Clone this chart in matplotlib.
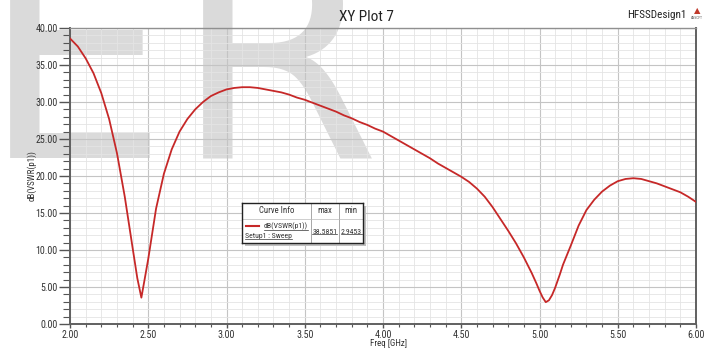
import matplotlib
matplotlib.use("Agg")
import matplotlib.pyplot as plt
from matplotlib import font_manager
from matplotlib.ticker import MultipleLocator, FormatStrFormatter
from matplotlib.patches import Rectangle

# ---- data ----
freq = [2.00, 2.05, 2.10, 2.15, 2.20, 2.25, 2.30, 2.35, 2.40, 2.43, 2.456,
        2.48, 2.50, 2.55, 2.60, 2.65, 2.70, 2.75, 2.80, 2.85, 2.90, 2.95,
        3.00, 3.05, 3.10, 3.15, 3.20, 3.25, 3.30, 3.35, 3.40, 3.45, 3.50,
        3.55, 3.60, 3.65, 3.70, 3.75, 3.80, 3.85, 3.90, 3.95, 4.00, 4.05,
        4.10, 4.15, 4.20, 4.25, 4.30, 4.35, 4.40, 4.45, 4.50, 4.55, 4.60,
        4.65, 4.70, 4.75, 4.80, 4.85, 4.90, 4.95, 4.98, 5.00, 5.02, 5.04,
        5.06, 5.08, 5.10, 5.13, 5.15, 5.20, 5.25, 5.30, 5.35, 5.40, 5.45,
        5.50, 5.55, 5.60, 5.65, 5.70, 5.75, 5.80, 5.85, 5.90, 5.95, 6.00]
vswr_db = [38.59, 37.5, 35.9, 33.9, 31.2, 27.7, 23.1, 17.2, 10.3, 6.2, 3.56,
           6.4, 8.8, 15.6, 20.3, 23.6, 26.0, 27.7, 29.0, 30.0, 30.8, 31.3,
           31.7, 31.9, 32.0, 32.0, 31.9, 31.7, 31.5, 31.3, 31.0, 30.6, 30.3,
           29.9, 29.5, 29.1, 28.7, 28.2, 27.8, 27.3, 26.9, 26.4, 26.0, 25.4,
           24.8, 24.2, 23.6, 23.0, 22.4, 21.7, 21.1, 20.5, 19.9, 19.2, 18.3,
           17.2, 15.8, 14.2, 12.6, 10.9, 9.0, 6.9, 5.5, 4.5, 3.6, 2.95,
           3.2, 3.9, 4.9, 6.7, 8.0, 10.6, 13.3, 15.4, 16.8, 17.9, 18.7,
           19.3, 19.6, 19.7, 19.6, 19.3, 19.0, 18.6, 18.2, 17.8, 17.2, 16.5]
trace_name = "dB(VSWR(p1))"
setup_name = "Setup1 : Sweep"
max_label = "38.5851"
min_label = "2.9453"
title = "XY Plot 7"
design = "HFSSDesign1"
xlabel = "Freq [GHz]"
ylabel = "dB(VSWR(p1))"

avail = {f.name for f in font_manager.fontManager.ttflist}
narrow = "DejaVu Sans"
for cand in ["Liberation Sans Narrow", "Arial Narrow", "Roboto Condensed",
             "Open Sans Condensed", "Sofia Sans Semi Condensed", "Sofia Sans Condensed"]:
    if cand in avail:
        narrow = cand
        break

W, H = 718, 349
fig = plt.figure(figsize=(W / 100, H / 100), dpi=100)
fig.patch.set_facecolor("white")

def fx(px):
    return px / W

def fy(py):
    return (H - py) / H

# watermark letters (behind the axes)
wm_color = "#dadada"
fig.text(fx(-19), fy(158), "E", fontsize=214, family="DejaVu Sans",
         color=wm_color, va="baseline", ha="left", zorder=-5)
fig.text(fx(174), fy(158), "R", fontsize=214, family="DejaVu Sans",
         color=wm_color, va="baseline", ha="left", zorder=-5)

ax = fig.add_axes([fx(70), fy(324), fx(696) - fx(70), fy(28) - fy(324)])
ax.patch.set_alpha(0)
ax.plot(freq, vswr_db, color="#c62828", lw=1.3, zorder=3)
ax.set_xlim(2.0, 6.0)
ax.set_ylim(0, 40)
ax.xaxis.set_major_locator(MultipleLocator(0.5))
ax.xaxis.set_minor_locator(MultipleLocator(0.1))
ax.yaxis.set_major_locator(MultipleLocator(5))
ax.yaxis.set_minor_locator(MultipleLocator(1))
ax.xaxis.set_major_formatter(FormatStrFormatter("%.2f"))
ax.yaxis.set_major_formatter(FormatStrFormatter("%.2f"))
ax.grid(which="major", color="#c4c4c4", lw=0.8, zorder=0)
ax.grid(which="minor", color="#e4e4e4", lw=0.6, zorder=0)
ax.set_axisbelow(True)
ax.tick_params(axis="y", which="major", length=8, width=1, color="#555555",
               labelsize=7.2, labelcolor="#333333", pad=1)
ax.tick_params(axis="y", which="minor", length=5, width=0.8, color="#555555")
ax.tick_params(axis="x", which="major", length=3, width=1, color="#555555",
               labelsize=7.2, labelcolor="#333333", pad=1)
ax.tick_params(axis="x", which="minor", length=2.5, width=0.8, color="#555555")
for lab in ax.get_xticklabels() + ax.get_yticklabels():
    lab.set_family(narrow)
for s in ["left", "bottom", "right"]:
    ax.spines[s].set_color("#606060")
    ax.spines[s].set_linewidth(1.4)
ax.spines["top"].set_color("#909090")
ax.spines["top"].set_linewidth(1.0)

ax.set_xlabel(xlabel, fontsize=6.5, family=narrow, color="#333333", va="center")
ax.xaxis.set_label_coords((388 - 70) / 626, (324 - 343) / 296)
ax.set_ylabel(ylabel, fontsize=6.5, family=narrow, color="#333333", va="center")
ax.yaxis.set_label_coords((32 - 70) / 626, 0.5)

fig.text(fx(366), fy(17), title, fontsize=11, family=narrow, color="#222222",
         ha="center", va="center")
fig.text(fx(657), fy(15), design, fontsize=8, family=narrow, color="#222222",
         ha="center", va="center")
fig.text(fx(697), fy(11), "\u25B2", fontsize=6, color="#c0392b",
         ha="center", va="center", family="DejaVu Sans")
fig.text(fx(697), fy(18), "ANSOFT", fontsize=2.2, color="#555555",
         ha="center", va="center")

# legend box (Curve Info table)
bx0, by0, bx1, by1 = 242, 203, 363, 243
fig.patches.append(Rectangle((fx(bx0 + 3), fy(by1 + 3)), fx(bx1 - bx0), fy(by0) - fy(by1),
                             transform=fig.transFigure, facecolor="#c0c0c0",
                             edgecolor="none", zorder=4))
lax = fig.add_axes([fx(bx0), fy(by1), fx(bx1 - bx0), fy(by0) - fy(by1)], zorder=5)
lax.set_xlim(bx0, bx1)
lax.set_ylim(by1, by0)
lax.set_xticks([])
lax.set_yticks([])
lax.patch.set_facecolor("white")
for s in lax.spines.values():
    s.set_color("#222222")
    s.set_linewidth(1.0)
c1, c2 = 310.7, 339
lax.plot([c1, c1], [by0, by1], color="#999999", lw=0.6)
lax.plot([c2, c2], [by0, by1], color="#999999", lw=0.6)
lax.plot([bx0, bx1], [219.3, 219.3], color="#bbbbbb", lw=0.5)
tf = dict(family=narrow, color="#333333", va="center")
fs = 5.6
fh = 6.3
lax.text((bx0 + c1) / 2, 210.5, "Curve Info", fontsize=fh, ha="center", **tf)
lax.text((c1 + c2) / 2, 210.5, "max", fontsize=fh, ha="center", **tf)
lax.text((c2 + bx1) / 2, 210.5, "min", fontsize=fh, ha="center", **tf)
lax.plot([245.5, 259], [226, 226], color="#c62828", lw=1.5)
t1 = lax.text(308, 226.5, trace_name, fontsize=fs, ha="right", **tf)
t2 = lax.text(245, 236, setup_name, fontsize=fs, ha="left", **tf)
t3 = lax.text((c1 + c2) / 2, 231.5, max_label, fontsize=fs, ha="center", **tf)
t4 = lax.text((c2 + bx1) / 2, 231.5, min_label, fontsize=fs, ha="center", **tf)

fig.canvas.draw()
r = fig.canvas.get_renderer()
inv = lax.transData.inverted()
for t in (t1, t2, t3, t4):
    bb = t.get_window_extent(r)
    (xa, ya), (xb, yb) = inv.transform([(bb.x0, bb.y0 + 0.5), (bb.x1, bb.y0 + 0.5)])
    lax.plot([xa, xb], [ya, yb], color="#333333", lw=0.5)

fig.savefig("out.png", dpi=100, facecolor="white")
